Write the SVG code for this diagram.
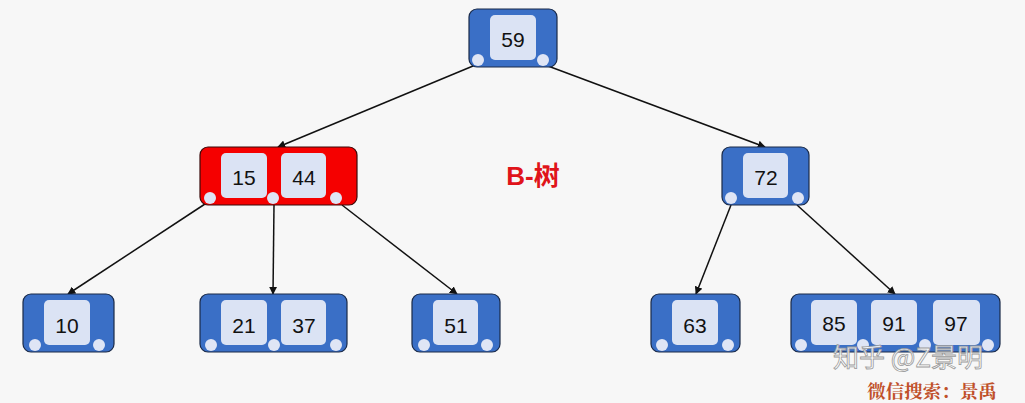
<svg xmlns="http://www.w3.org/2000/svg" width="1025" height="403" viewBox="0 0 1025 403">
<defs>
<style>
.node{fill:#3a6fc6;stroke:#1a2a48;stroke-width:1.2}
.red{fill:#f50000;stroke:#3a0a0a;stroke-width:1.2}
.key{fill:#dbe3f4;stroke:none}
.dot{fill:#dfe5f5;stroke:none}
.t{font-family:"Liberation Sans",Arial,sans-serif;font-size:21px;fill:#111;text-anchor:middle;dominant-baseline:central}
.edge{stroke:#111;stroke-width:1.5;fill:none;marker-end:url(#ah)}
</style>
<marker id="ah" viewBox="0 0 10 10" refX="9" refY="5" markerWidth="8" markerHeight="8" markerUnits="userSpaceOnUse" orient="auto">
<path d="M0,0 L10,5 L0,10 z" fill="#111"/>
</marker>
</defs>
<rect width="1025" height="403" fill="#f7f7f7"/>
<g id="connectors">
<line class="edge" x1="473" y1="66" x2="278" y2="147"/>
<line class="edge" x1="548" y1="66" x2="765" y2="147"/>
<line class="edge" x1="205" y1="204" x2="68" y2="294"/>
<line class="edge" x1="274" y1="205" x2="273" y2="294"/>
<line class="edge" x1="342" y1="205" x2="457" y2="294"/>
<line class="edge" x1="731" y1="205" x2="696" y2="294"/>
<line class="edge" x1="797" y1="205" x2="895" y2="294"/>
</g>
<g id="n59">
<rect class="node" x="469" y="9" width="88" height="58" rx="8"/>
<rect class="key" x="490" y="15" width="46" height="45" rx="5"/>
<text class="t" x="513" y="39">59</text>
<circle class="dot" cx="478" cy="60" r="6"/><circle class="dot" cx="543" cy="60" r="6"/>
</g>
<g id="n15_44">
<rect class="red" x="200" y="147" width="157" height="58" rx="8"/>
<rect class="key" x="221" y="153" width="46" height="45" rx="5"/>
<rect class="key" x="281" y="153" width="45" height="45" rx="5"/>
<text class="t" x="244" y="177">15</text>
<text class="t" x="304" y="177">44</text>
<circle class="dot" cx="210" cy="198" r="6"/><circle class="dot" cx="273" cy="198" r="6"/><circle class="dot" cx="336" cy="198" r="6"/>
</g>
<g id="n72">
<rect class="node" x="722" y="147" width="87" height="58" rx="8"/>
<rect class="key" x="743" y="153" width="45" height="45" rx="5"/>
<text class="t" x="766" y="177">72</text>
<circle class="dot" cx="731" cy="198" r="6"/><circle class="dot" cx="798" cy="198" r="6"/>
</g>
<g id="n10">
<rect class="node" x="23" y="294" width="91" height="58" rx="8"/>
<rect class="key" x="44" y="300" width="46" height="45" rx="5"/>
<text class="t" x="67" y="325">10</text>
<circle class="dot" cx="35" cy="345" r="6"/><circle class="dot" cx="99" cy="345" r="6"/>
</g>
<g id="n21_37">
<rect class="node" x="200" y="294" width="147" height="58" rx="8"/>
<rect class="key" x="221" y="300" width="46" height="45" rx="5"/>
<rect class="key" x="281" y="300" width="45" height="45" rx="5"/>
<text class="t" x="244" y="325">21</text>
<text class="t" x="304" y="325">37</text>
<circle class="dot" cx="211" cy="345" r="6"/><circle class="dot" cx="274" cy="345" r="6"/><circle class="dot" cx="336" cy="345" r="6"/>
</g>
<g id="n51">
<rect class="node" x="412" y="294" width="88" height="58" rx="8"/>
<rect class="key" x="433" y="300" width="45" height="45" rx="5"/>
<text class="t" x="456" y="325">51</text>
<circle class="dot" cx="424" cy="345" r="6"/><circle class="dot" cx="487" cy="345" r="6"/>
</g>
<g id="n63">
<rect class="node" x="651" y="294" width="89" height="58" rx="8"/>
<rect class="key" x="672" y="300" width="46" height="45" rx="5"/>
<text class="t" x="695" y="325">63</text>
<circle class="dot" cx="662" cy="345" r="6"/><circle class="dot" cx="728" cy="345" r="6"/>
</g>
<g id="n85_91_97">
<rect class="node" x="791" y="294" width="209" height="58" rx="8"/>
<rect class="key" x="811" y="300" width="46" height="45" rx="5"/>
<rect class="key" x="871" y="300" width="46" height="45" rx="5"/>
<rect class="key" x="933" y="300" width="47" height="45" rx="5"/>
<text class="t" x="834" y="323">85</text>
<text class="t" x="894" y="323">91</text>
<text class="t" x="956" y="323">97</text>
<circle class="dot" cx="801" cy="345" r="6"/><circle class="dot" cx="863" cy="345" r="6"/><circle class="dot" cx="925" cy="345" r="6"/><circle class="dot" cx="988" cy="345" r="6"/>
</g>
<text x="533" y="176" font-family="'Liberation Sans','Noto Sans CJK SC',sans-serif" font-size="26" font-weight="bold" fill="#e0141a" text-anchor="middle" dominant-baseline="central">B-树</text>
<text x="908" y="367" font-family="'Noto Sans CJK SC',sans-serif" font-size="26" fill="#ffffff" stroke="#9a9a9a" stroke-width="0.8" fill-opacity="0.85" text-anchor="middle">知乎 @Z景明</text>
<text x="932" y="398" font-family="'Noto Serif CJK SC','Noto Sans CJK SC',serif" font-size="18.5" font-weight="bold" fill="#c0502a" text-anchor="middle">微信搜索：景禹</text>
</svg>
